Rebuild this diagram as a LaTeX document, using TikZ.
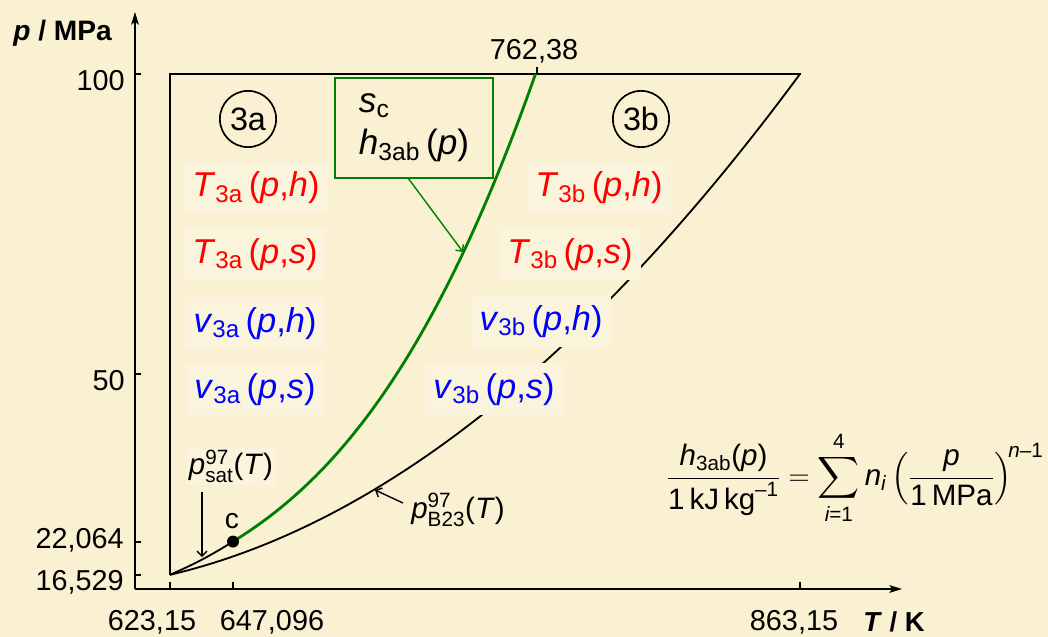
\documentclass[tikz,border=0pt]{standalone}
\usepackage{amsmath}
\usepackage{fontspec}
\setmainfont{Liberation Sans}
\usetikzlibrary{arrows.meta}
\definecolor{bg}{HTML}{FAF0D2}
\definecolor{lbg}{HTML}{FBF4DC}
\definecolor{grn}{HTML}{008000}
\definecolor{myred}{HTML}{FF0000}
\definecolor{myblue}{HTML}{0000FF}
\newcommand{\sbx}[1]{\textsubscript{#1}}
\begin{document}
\begin{tikzpicture}[x=0.025cm,y=-0.025cm,
  declare function={Tab(\p)=1547.93642129415 - 187.661219490113*ln(\p) + 21.3144632222113*(ln(\p))^2 - 1918.87498864292/ln(\p) + 918.419702359447/((ln(\p))^2);},
  blk/.style={line width=1.3pt},
  axlab/.style={font=\fontsize{20.5}{24}\selectfont, inner sep=0pt},
  fn/.style={font=\fontsize{24.5}{30}\selectfont, fill=lbg, inner xsep=6pt, inner ysep=7pt, anchor=base},
  fred/.style={fn, text=myred},
  fblue/.style={fn, text=myblue},
  axtip/.style={-{Stealth[length=9pt,width=5.5pt,inset=2pt]}},
  barb/.style={-{Straight Barb[length=3.5pt,width=7pt]}}
]
\fill[bg] (0,0) rectangle (1048,637);
\useasboundingbox (0,0) rectangle (1048,637);

% axes
\coordinate (O) at (135,589);
\coordinate (Ytop) at (135,12);
\coordinate (Xend) at (902,589);
\draw[blk, axtip] (O) -- (Ytop);
\draw[blk, axtip] (O) -- (Xend);
% ticks
\foreach \yy in {74,374,541.6,574.8} \draw[blk] (135,\yy) -- (141,\yy);
\foreach \xx in {170,233,800} \draw[blk] (\xx,589) -- (\xx,582);

% region boundary
\coordinate (P0) at (170,574.8);
\coordinate (Pc) at (233,541.6);
\draw[blk] (P0) -- (170,74) -- (801,74);
\draw[blk] (537,74) -- (537,67);
% B23 line
\draw[blk] plot[domain=0:24, samples=60, variable=\v] ({170+26.25*\v}, {674-6*(16.529+1.0317*\v+0.10193*\v*\v)});
% saturation line
\draw[blk] (P0) to[bend right=4] (Pc);
% 3ab boundary
\draw[grn, line width=2pt] plot[domain=22.064:100, samples=80, variable=\p] ({170+2.625*(Tab(\p)-623.15)}, {674-6*\p});
\node[circle, fill=black, inner sep=0pt, minimum size=8.5pt] (c) at (Pc) {};
\node[font=\fontsize{20}{24}\selectfont, anchor=base, inner sep=0pt] (clab) at (232,528) {c};

% axis labels
\node[anchor=base west, font=\bfseries\fontsize{20}{24}\selectfont, inner sep=0pt] (ylab) at (13,41) {\textit{p} / MPa};
\node[anchor=base west, font=\bfseries\fontsize{19.5}{23}\selectfont, inner sep=0pt] (xlab) at (863,631) {\textit{T} / K};
\node[axlab, anchor=base east] (y100) at (125,91) {100};
\node[axlab, anchor=base east] (y50) at (125,390) {50};
\node[axlab, anchor=base east] (y22) at (124,548) {22,064};
\node[axlab, anchor=base east] (y16) at (124,590) {16,529};
\node[axlab, anchor=base] (x623) at (152,630) {623,15};
\node[axlab, anchor=base] (x647) at (272,630) {647,096};
\node[axlab, anchor=base] (x863) at (794,630) {863,15};
\node[axlab, anchor=base] (x762) at (534,60) {762,38};

% region circles
\node[circle, draw, line width=1.2pt, minimum size=40pt, inner sep=0pt, font=\fontsize{23}{26}\selectfont] (r3a) at (248,119) {3a};
\node[circle, draw, line width=1.2pt, minimum size=40pt, inner sep=0pt, font=\fontsize{23}{26}\selectfont] (r3b) at (641,119) {3b};

% function labels
\node[fred] (t3aph) at (256,197) {\textit{T}\sbx{3a}\,(\textit{p},\textit{h})};
\node[fred] (t3aps) at (255,263) {\textit{T}\sbx{3a}\,(\textit{p},\textit{s})};
\node[fblue] (v3aph) at (255,332) {\textit{v}\sbx{3a}\,(\textit{p},\textit{h})};
\node[fblue] (v3aps) at (255,398) {\textit{v}\sbx{3a}\,(\textit{p},\textit{s})};
\node[fred] (t3bph) at (599,197) {\textit{T}\sbx{3b}\,(\textit{p},\textit{h})};
\node[fred] (t3bps) at (570,263) {\textit{T}\sbx{3b}\,(\textit{p},\textit{s})};
\node[fblue] (v3bph) at (541,330) {\textit{v}\sbx{3b}\,(\textit{p},\textit{h})};
\node[fblue] (v3bps) at (494,398) {\textit{v}\sbx{3b}\,(\textit{p},\textit{s})};

% green box
\node[draw=grn, line width=1.3pt, minimum width=112pt, minimum height=71pt, align=left, font=\fontsize{25}{30}\selectfont, inner sep=0pt] (box) at (414,128) {\textit{s}\sbx{c}\\\textit{h}\sbx{3ab}\,(\textit{p})};
\coordinate (bx) at (408,178);
\coordinate (gtip) at (463,252);
\draw[grn, line width=1pt, barb] (bx) -- (gtip);

% saturation label
\node[font=\fontsize{21}{24}\selectfont, inner sep=2pt, fill=lbg] (psat) at (231,466) {\textit{p}$^{\text{97}}_{\text{sat}}$(\textit{T})};
\coordinate (ps1) at (202,492);
\coordinate (ps2) at (202,557);
\draw[line width=1pt, barb] (ps1) -- (ps2);

% B23 label
\node[font=\fontsize{21}{24}\selectfont, inner sep=2pt] (pb23) at (458,510) {\textit{p}$^{\text{97}}_{\text{B23}}$(\textit{T})};
\coordinate (pb1) at (403,503);
\coordinate (pb2) at (375,490);
\draw[line width=1pt, barb] (pb1) -- (pb2);

% equation
\node[font=\fontsize{21}{25}\selectfont, inner sep=0pt] (eq) at (855,478) {$\displaystyle \frac{\text{\itshape h}_{\text{3ab}}\text{(\itshape p\upshape)}}{\text{1\,kJ\,kg}^{\text{--1}}} = \sum_{\text{\itshape i}\text{=1}}^{\text{4}} \text{\itshape n}_{\text{\itshape i}} \left(\frac{\text{\itshape p}}{\text{1\,MPa}}\right)^{\!\text{\itshape n}\text{--1}}$};
\end{tikzpicture}
\end{document}
